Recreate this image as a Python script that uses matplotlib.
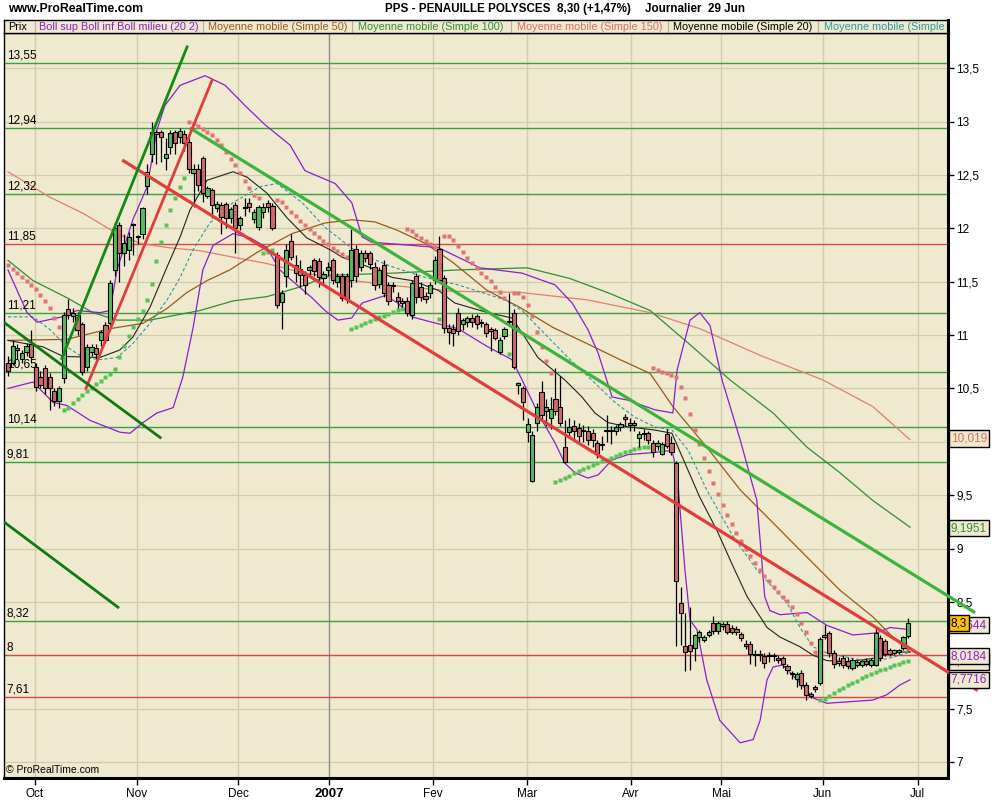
"""
plot.py
Daily candlestick chart PPS - PENAUILLE POLYSCES with moving averages,
Bollinger bands, parabolic SAR and trend lines. Writes out.png.
"""

import matplotlib
matplotlib.use("Agg")
import matplotlib.pyplot as plt
import matplotlib.transforms as mtransforms

plt.rcParams["font.family"] = ["Liberation Sans", "DejaVu Sans"]
NARROW = ["Liberation Sans Narrow", "Liberation Sans", "DejaVu Sans"]

# ---- daily prices (one entry per trading day, 21 Sep 2006 -> 29 Jun 2007)
opens = [
    10.74, 10.74, 10.86, 10.78, 10.84, 10.92, 10.70, 10.61, 10.69, 10.61,
    10.48, 10.38, 10.60, 11.24, 11.18, 11.19, 11.10, 10.70, 10.84, 10.88,
    10.95, 11.09, 11.11, 11.61, 12.03, 11.77, 11.80, 12.03, 11.92, 11.95,
    12.40, 12.70, 12.90, 12.90, 12.66, 12.76, 12.90, 12.86, 12.88, 12.81,
    12.52, 12.56, 12.66, 12.30, 12.36, 12.19, 12.22, 12.23, 12.10, 12.22,
    12.03, 12.19, 12.24, 12.09, 12.01, 12.15, 12.24, 12.21, 11.75, 11.31,
    11.55, 11.88, 11.66, 11.62, 11.56, 11.61, 11.70, 11.69, 11.53, 11.61,
    11.70, 11.50, 11.55, 11.55, 11.52, 11.81, 11.64, 11.77, 11.77, 11.64,
    11.48, 11.66, 11.47, 11.46, 11.36, 11.32, 11.32, 11.19, 11.55, 11.45,
    11.37, 11.39, 11.52, 11.81, 11.53, 11.07, 11.06, 11.21, 11.10, 11.12,
    11.16, 11.18, 11.12, 11.10, 11.06, 11.05, 10.84, 10.99, 11.12, 11.21,
    10.53, 10.50, 10.09, 9.63, 10.18, 10.47, 10.29, 10.22, 10.40, 10.33,
    9.95, 10.09, 10.15, 10.13, 10.10, 10.10, 10.08, 9.99, 9.97, 10.10,
    10.10, 10.10, 10.14, 10.23, 10.18, 10.16, 10.04, 10.07, 10.08, 9.99,
    9.96, 9.89, 10.07, 9.99, 9.80, 8.49, 8.09, 8.10, 8.07, 8.17,
    8.14, 8.19, 8.30, 8.23, 8.27, 8.29, 8.26, 8.25, 8.20, 8.11,
    8.11, 8.01, 8.00, 7.99, 7.99, 7.99, 7.97, 7.97, 7.90, 7.82,
    7.78, 7.83, 7.72, 7.62, 7.70, 7.74, 8.19, 8.21, 8.02, 7.93,
    7.97, 7.95, 7.88, 7.91, 7.91, 7.95, 7.91, 7.91, 8.16, 8.13,
    8.05, 8.02, 8.03, 8.07, 8.18]
highs = [
    10.80, 10.95, 10.92, 10.86, 10.93, 11.05, 10.74, 10.66, 10.72, 10.64,
    10.50, 10.52, 11.22, 11.34, 11.25, 11.22, 11.12, 10.92, 10.92, 10.92,
    11.05, 11.12, 11.52, 12.06, 12.06, 11.95, 11.97, 12.05, 11.94, 12.20,
    12.60, 13.00, 12.92, 12.92, 12.85, 12.92, 12.92, 12.94, 12.92, 12.85,
    12.60, 12.60, 12.68, 12.40, 12.38, 12.26, 12.25, 12.25, 12.20, 12.25,
    12.12, 12.28, 12.28, 12.18, 12.22, 12.24, 12.27, 12.24, 11.78, 11.42,
    11.85, 11.95, 11.75, 11.70, 11.60, 11.66, 11.72, 11.72, 11.60, 11.68,
    11.72, 11.58, 11.58, 11.58, 11.99, 11.84, 11.80, 11.80, 11.79, 11.68,
    11.64, 11.70, 11.50, 11.50, 11.40, 11.35, 11.36, 11.52, 11.58, 11.50,
    11.40, 11.50, 11.74, 11.93, 11.56, 11.10, 11.10, 11.25, 11.16, 11.18,
    11.20, 11.20, 11.15, 11.12, 11.08, 11.07, 10.98, 11.08, 11.39, 11.24,
    10.56, 10.52, 10.22, 10.10, 10.36, 10.57, 10.40, 10.42, 10.69, 10.62,
    10.20, 10.22, 10.20, 10.18, 10.16, 10.15, 10.12, 10.02, 10.05, 10.25,
    10.15, 10.16, 10.19, 10.26, 10.22, 10.20, 10.10, 10.12, 10.10, 10.02,
    10.02, 10.00, 10.12, 10.05, 9.82, 8.64, 8.40, 8.45, 8.20, 8.24,
    8.19, 8.24, 8.37, 8.32, 8.31, 8.32, 8.28, 8.27, 8.22, 8.14,
    8.13, 8.05, 8.05, 8.02, 8.03, 8.02, 8.00, 7.99, 7.92, 7.85,
    7.84, 7.86, 7.75, 7.66, 7.72, 8.17, 8.28, 8.23, 8.05, 7.98,
    8.00, 7.98, 7.97, 7.96, 7.96, 7.97, 7.97, 8.26, 8.19, 8.15,
    8.07, 8.06, 8.06, 8.18, 8.35]
lows = [
    10.62, 10.72, 10.78, 10.74, 10.80, 10.76, 10.48, 10.50, 10.45, 10.30,
    10.34, 10.32, 10.55, 11.15, 11.12, 11.00, 10.63, 10.66, 10.80, 10.78,
    10.90, 10.93, 11.08, 11.55, 11.50, 11.65, 11.70, 11.75, 11.85, 11.90,
    12.32, 12.62, 12.60, 12.62, 12.55, 12.70, 12.70, 12.80, 12.72, 12.52,
    12.20, 12.35, 12.25, 12.28, 12.10, 12.15, 11.95, 12.00, 12.05, 11.77,
    11.98, 12.12, 12.15, 12.05, 11.98, 12.10, 12.15, 11.98, 11.25, 11.06,
    11.45, 11.70, 11.50, 11.45, 11.38, 11.55, 11.55, 11.45, 11.48, 11.55,
    11.48, 11.45, 11.32, 11.30, 11.45, 11.50, 11.60, 11.68, 11.62, 11.42,
    11.44, 11.36, 11.28, 11.40, 11.25, 11.26, 11.18, 11.15, 11.30, 11.32,
    11.30, 11.35, 11.48, 11.50, 11.02, 10.92, 10.90, 11.00, 11.05, 11.08,
    11.08, 11.06, 11.08, 10.98, 10.85, 10.95, 10.82, 10.96, 11.10, 10.68,
    10.45, 10.20, 10.00, 9.62, 10.10, 10.20, 10.15, 10.12, 10.25, 10.15,
    9.80, 10.05, 10.02, 10.00, 10.00, 9.97, 9.95, 9.85, 9.92, 10.00,
    9.98, 10.06, 10.10, 10.15, 10.10, 10.10, 9.95, 10.02, 9.98, 9.86,
    9.92, 9.88, 9.94, 9.88, 8.09, 8.10, 7.85, 7.86, 7.95, 8.12,
    8.12, 8.17, 8.20, 8.20, 8.24, 8.20, 8.20, 8.19, 8.13, 8.06,
    7.92, 7.90, 7.95, 7.88, 7.94, 7.95, 7.93, 7.88, 7.82, 7.78,
    7.70, 7.68, 7.58, 7.60, 7.66, 7.72, 8.15, 7.98, 7.88, 7.90,
    7.88, 7.87, 7.86, 7.89, 7.89, 7.90, 7.89, 7.90, 7.95, 7.99,
    7.99, 8.00, 8.01, 8.05, 8.16]
closes = [
    10.66, 10.90, 10.88, 10.83, 10.90, 10.79, 10.51, 10.53, 10.50, 10.50,
    10.38, 10.50, 11.19, 11.19, 11.21, 11.05, 10.65, 10.89, 10.89, 10.82,
    11.03, 10.95, 11.49, 12.00, 11.77, 11.86, 11.92, 12.04, 11.92, 12.19,
    12.53, 12.90, 12.88, 12.86, 12.70, 12.89, 12.80, 12.91, 12.80, 12.56,
    12.56, 12.41, 12.33, 12.38, 12.22, 12.23, 12.11, 12.10, 12.18, 12.00,
    12.10, 12.19, 12.20, 12.15, 12.20, 12.20, 12.20, 12.00, 11.28, 11.39,
    11.80, 11.73, 11.58, 11.56, 11.47, 11.64, 11.60, 11.54, 11.57, 11.64,
    11.52, 11.55, 11.35, 11.34, 11.80, 11.55, 11.77, 11.72, 11.67, 11.47,
    11.61, 11.39, 11.32, 11.46, 11.32, 11.30, 11.21, 11.49, 11.36, 11.36,
    11.34, 11.47, 11.70, 11.52, 11.07, 11.03, 11.02, 11.04, 11.14, 11.16,
    11.12, 11.10, 11.11, 11.02, 11.04, 10.97, 10.95, 11.06, 11.13, 10.70,
    10.55, 10.37, 10.17, 10.06, 10.33, 10.25, 10.33, 10.31, 10.29, 10.18,
    9.81, 10.14, 10.10, 10.05, 10.10, 10.02, 10.02, 9.89, 9.97, 10.10,
    10.11, 10.14, 10.17, 10.21, 10.16, 10.16, 10.07, 10.07, 10.02, 9.90,
    9.99, 9.98, 9.96, 9.90, 8.70, 8.40, 8.03, 8.04, 8.19, 8.22,
    8.17, 8.22, 8.23, 8.30, 8.29, 8.22, 8.22, 8.22, 8.16, 8.09,
    8.01, 8.00, 8.00, 7.93, 7.99, 7.99, 7.96, 7.92, 7.86, 7.82,
    7.82, 7.72, 7.63, 7.64, 7.68, 8.15, 8.17, 8.02, 7.92, 7.95,
    7.91, 7.90, 7.96, 7.94, 7.95, 7.92, 7.96, 8.21, 7.97, 8.01,
    8.01, 8.05, 8.05, 8.17, 8.30]

# ---- indicator lines (day index, price)
boll_up_x = [0, 4.1, 6.3, 11.6, 14.9, 19.8, 22, 23.5, 26.9, 30, 32.1, 33.8, 37.1, 42.5,
             46.8, 51.1, 55.4, 60.8, 64, 70.5, 74.1, 76.3, 78.4, 87.1, 92.7, 97, 101.7,
             110.8, 117.9, 121.6, 125, 127.2, 130.2, 133.6, 139.4, 143.3, 144.2, 147,
             149.1, 151.3, 153.9, 157.8, 161.4, 163.1, 164.2, 166.4, 172.2, 176.5, 182.1,
             187.3, 190.1, 194.4]
boll_up_y = [11.61, 11.21, 11.12, 11.17, 11.23, 11.21, 11.23, 11.61, 12.08, 12.39, 12.92,
             13.15, 13.34, 13.43, 13.34, 13.15, 12.97, 12.78, 12.54, 12.42, 12.24, 11.92,
             11.87, 11.84, 11.82, 11.73, 11.63, 11.58, 11.47, 11.30, 11.05, 10.83, 10.42,
             10.39, 10.30, 10.27, 10.67, 11.14, 11.21, 11.09, 10.58, 10.02, 9.45, 8.55,
             8.42, 8.38, 8.40, 8.28, 8.19, 8.21, 8.26, 8.24]
boll_dn_x = [0, 5.4, 9.7, 12.7, 17.7, 24.1, 26.3, 29.1, 32.1, 35.6, 37.7, 39.9, 42, 44.2,
             48.5, 52.2, 55.8, 58.6, 61.2, 65.5, 68.3, 71.1, 74.1, 76.3, 81.3, 84, 87.1,
             91.4, 97, 103.4, 108.6, 110.8, 114.2, 117.9, 120, 122.2, 125, 127.2, 130.2,
             133.6, 139.4, 143.1, 144.2, 145.9, 147, 148.5, 150.6, 153.4, 157.8, 160.6,
             162.1, 163.6, 164.9, 167, 169.2, 172.2, 173.5, 176.5, 186.4, 189.4, 192.2,
             194.4]
boll_dn_y = [10.50, 10.56, 10.37, 10.34, 10.20, 10.09, 10.08, 10.18, 10.27, 10.32, 10.61,
             11.07, 11.61, 11.84, 11.95, 11.91, 11.82, 11.61, 11.51, 11.35, 11.23, 11.14,
             11.16, 11.30, 11.37, 11.30, 11.17, 11.12, 11.06, 10.89, 10.77, 10.58, 10.27,
             9.99, 9.80, 9.71, 9.66, 9.69, 9.83, 9.88, 9.90, 9.92, 9.71, 8.80, 8.33, 8.24,
             7.77, 7.39, 7.18, 7.21, 7.39, 7.77, 7.89, 7.91, 7.81, 7.67, 7.60, 7.55, 7.58,
             7.63, 7.72, 7.77]
sma20_x = [0, 7.5, 11.9, 19.8, 24.1, 26.9, 30.6, 34.3, 37.1, 39.2, 42.9, 48.5, 51.5, 55.8,
           60.1, 64.4, 69.4, 72, 77.6, 82.8, 87.1, 92.7, 96.3, 103.4, 108.6, 110.8, 114.2,
           120, 123.7, 126.5, 129.3, 133.6, 139.4, 143.1, 146.6, 149.1, 152.8, 156.3, 159.3,
           163.6, 166.4, 170.7, 173.5, 176.5, 180.8, 186.4, 190.7, 194.4]
sma20_y = [10.95, 10.89, 10.80, 10.79, 10.86, 10.98, 11.26, 11.64, 11.92, 12.17, 12.45,
           12.53, 12.48, 12.33, 12.10, 11.91, 11.80, 11.73, 11.64, 11.54, 11.51, 11.42,
           11.30, 11.21, 11.16, 11.02, 10.79, 10.58, 10.42, 10.27, 10.18, 10.14, 10.11,
           10.08, 9.73, 9.48, 9.17, 8.83, 8.55, 8.26, 8.17, 8.08, 8.00, 7.95, 7.94, 7.97,
           8.03, 8.03]
sma_teal_x = [0, 5.4, 9.1, 12.7, 16.2, 19.8, 23.5, 26.9, 30.6, 34.3, 37.1, 39.9, 43.5,
              48.5, 54.3, 58, 63.4, 68.3, 75.4, 82.8, 89.9, 97, 107.1, 110.8, 116.4, 120.7,
              126.5, 130.8, 135.1, 139.4, 143.1, 146.6, 150.6, 156.3, 161.4, 167.9, 170.7,
              173.5, 176.5, 182.1, 186.4, 190.7, 194.4]
sma_teal_y = [11.17, 11.17, 11.05, 10.89, 10.79, 10.77, 10.79, 10.92, 11.11, 11.33, 11.54,
              11.80, 12.05, 12.24, 12.39, 12.42, 12.24, 12.01, 11.77, 11.64, 11.54, 11.47,
              11.33, 11.23, 10.98, 10.79, 10.55, 10.37, 10.23, 10.14, 10.11, 9.92, 9.55,
              9.11, 8.80, 8.49, 8.26, 8.08, 8.02, 7.97, 7.94, 7.98, 8.03]
sma50_x = [0, 12.7, 22, 29.1, 34.3, 38.6, 42.9, 47.8, 53.9, 61.2, 68.3, 74.1, 79.1, 84,
           89.9, 95.9, 103.2, 110.3, 117.5, 124.8, 131.9, 138.4, 143.3, 150.6, 157.8, 164.9,
           172.2, 179.3, 186.4, 190.7, 194.4]
sma50_y = [10.95, 10.96, 11.06, 11.11, 11.25, 11.40, 11.51, 11.61, 11.78, 11.95, 12.05,
           12.08, 12.06, 11.98, 11.86, 11.68, 11.42, 11.26, 11.07, 10.92, 10.77, 10.64,
           10.33, 9.95, 9.55, 9.24, 8.92, 8.61, 8.36, 8.17, 8.03]
sma100_x = [0, 5.4, 12.7, 18.3, 23.5, 30.6, 41.4, 48.5, 55.8, 62.9, 69.4, 82.8, 97, 111.9,
            121.1, 129.7, 138.4, 147, 155.6, 164.9, 172.2, 179.3, 186.4, 194.4]
sma100_y = [11.70, 11.51, 11.35, 11.21, 11.14, 11.14, 11.23, 11.32, 11.36, 11.45, 11.56,
            11.58, 11.61, 11.63, 11.53, 11.39, 11.23, 10.91, 10.58, 10.27, 9.95, 9.71,
            9.45, 9.20]
sma150_x = [0, 9.1, 16.2, 23.5, 28.4, 34.3, 41.4, 48.5, 55.8, 62.9, 69.4, 81.7, 95.9,
            110.3, 124.8, 138.4, 149.1, 162.1, 175.6, 186.4, 194.4]
sma150_y = [12.53, 12.29, 12.14, 11.95, 11.86, 11.82, 11.79, 11.73, 11.67, 11.59, 11.54,
            11.47, 11.41, 11.40, 11.33, 11.21, 11.06, 10.81, 10.58, 10.33, 10.02]

# ---- hand-drawn trend lines (day index, price)
trend_green_x = [39.2, 208.4]
trend_green_y = [12.94, 8.40]
trend_red_x = [24.6, 209.0]
trend_red_y = [12.64, 7.67]
trend_red_up_x = [16.8, 44.0]
trend_red_up_y = [10.50, 13.39]
trend_dkgreen_up_x = [11.6, 38.6]
trend_dkgreen_up_y = [10.78, 13.70]
trend_dkgreen_a_x = [-0.6, 32.8]
trend_dkgreen_a_y = [11.11, 10.04]
trend_dkgreen_b_x = [-0.6, 23.7]
trend_dkgreen_b_y = [9.24, 8.45]

# ---- horizontal support / resistance levels
levels = [13.55, 12.94, 12.32, 11.85, 11.21, 10.65, 10.14, 9.81, 8.32, 8.0, 7.61]
level_labels = ["13,55", "12,94", "12,32", "11,85", "11,21", "10,65", "10,14", "9,81",
                "8,32", "8", "7,61"]
level_colors = ["g", "g", "g", "r", "g", "g", "g", "g", "g", "r", "r"]

# ---- last values shown on the price axis (label, price, colour)
value_labels = ["10,019", "9,1951", "8,3644", "7,9417", "8,0184", "7,7716"]
value_prices = [10.03, 9.19, 8.28, 7.94, 7.99, 7.77]
value_colors = ["#d87060", "#2f8f2f", "#8a1fd0", "black", "#8a1fd0", "#8a1fd0"]

# ---- axes labels ("10" and "8" sit under the value boxes)
month_pos = [5.8, 27.8, 49.6, 69.2, 91.6, 111.9, 134.3, 153.7, 175.6, 196.1]
month_labels = ["Oct", "Nov", "Dec", "2007", "Fev", "Mar", "Avr", "Mai", "Jun", "Jul"]
price_ticks = [7, 7.5, 8, 8.5, 9, 9.5, 10, 10.5, 11, 11.5, 12, 12.5, 13, 13.5]
price_tick_labels = ["7", "7,5", "", "8,5", "9", "9,5", "", "10,5", "11", "11,5",
                     "12", "12,5", "13", "13,5"]

BG = "#efe9cf"
GRID = "#d2cbad"
UP = "#55bd55"
DOWN = "#cd6a6a"
PURPLE = "#8a1fd0"
LINE_GREEN = "#3f9f3f"
LINE_RED = "#d84848"


def parabolic_sar(high, low):
    # Wilder parabolic SAR, the chart opens in a falling phase
    up, s, ep, af = False, 11.66, low[0], 0.04
    vals, trend = [], []
    for i in range(len(high)):
        if i > 0:
            s = s + af * (ep - s)
            if up:
                s = min(s, low[i - 1], low[max(i - 2, 0)])
            else:
                s = max(s, high[i - 1], high[max(i - 2, 0)])
        if up and low[i] < s:
            up, s, ep, af = False, ep, low[i], 0.02
        elif not up and high[i] > s:
            up, s, ep, af = True, ep, high[i], 0.02
        elif up and high[i] > ep:
            ep, af = high[i], min(af + 0.02, 0.2)
        elif not up and low[i] < ep:
            ep, af = low[i], min(af + 0.02, 0.2)
        vals.append(s)
        trend.append(up)
    return vals, trend


def fx(px):
    return px / 1000.0


def fy(py):
    return 1 - py / 800.0


def main():
    fig = plt.figure(figsize=(10, 8), dpi=100, facecolor="white")
    ax = fig.add_axes([fx(4), fy(778), fx(944), 745 / 800.0], facecolor=BG)
    n = len(closes)
    days = list(range(n))

    ax.set_xlim(-0.86, 202.6)
    ax.set_ylim(6.85, 13.83)
    trans_left = mtransforms.blended_transform_factory(ax.transAxes, ax.transData)

    # grid
    for p in price_ticks:
        ax.axhline(p, color=GRID, lw=0.9, zorder=0)
    for m, lab in zip(month_pos, month_labels):
        ax.axvline(m, color="#8e8e8e" if lab == "2007" else GRID, lw=1.0, zorder=0)

    # support / resistance lines
    for lv, lab, c in zip(levels, level_labels, level_colors):
        col = LINE_GREEN if c == "g" else LINE_RED
        ax.axhline(lv, color=col, lw=1.0, zorder=1)
        ax.text(0.003, lv + 0.015, lab, transform=trans_left, fontsize=8.5,
                ha="left", va="bottom", color="black", zorder=6)

    # indicators
    ax.plot(sma150_x, sma150_y, color="#e0806e", lw=0.9, zorder=2)
    ax.plot(sma100_x, sma100_y, color="#2f8f2f", lw=0.9, zorder=2)
    ax.plot(sma50_x, sma50_y, color="#9a5a1a", lw=0.9, zorder=2)
    ax.plot(sma20_x, sma20_y, color="#222222", lw=0.8, zorder=2)
    ax.plot(sma_teal_x, sma_teal_y, color="#2a9a9a", lw=0.8, ls=(0, (3, 2)), zorder=2)
    ax.plot(boll_up_x, boll_up_y, color=PURPLE, lw=0.9, zorder=2)
    ax.plot(boll_dn_x, boll_dn_y, color=PURPLE, lw=0.9, zorder=2)

    # parabolic SAR
    sar, sar_up = parabolic_sar(highs, lows)
    ax.plot([d for d, u in zip(days, sar_up) if u], [s for s, u in zip(sar, sar_up) if u],
            ls="none", marker="s", ms=3.5, color="#55c455", mec="none", zorder=3)
    ax.plot([d for d, u in zip(days, sar_up) if not u],
            [s for s, u in zip(sar, sar_up) if not u],
            ls="none", marker="s", ms=3.5, color="#e07474", mec="none", zorder=3)

    # candles
    ax.vlines(days, lows, highs, color="black", lw=0.9, zorder=4)
    bottoms = [min(o, c) for o, c in zip(opens, closes)]
    heights = [max(abs(c - o), 0.012) for o, c in zip(opens, closes)]
    colors = [UP if c >= o else DOWN for o, c in zip(opens, closes)]
    ax.bar(days, heights, bottom=bottoms, width=0.9, color=colors, edgecolor="black",
           linewidth=0.8, zorder=5)

    # trend lines
    ax.plot(trend_green_x, trend_green_y, color="#3cb43c", lw=2.3, zorder=7,
            solid_capstyle="butt", clip_on=False)
    ax.plot(trend_red_x, trend_red_y, color="#e23c3c", lw=2.3, zorder=7,
            solid_capstyle="butt", clip_on=False)
    ax.plot(trend_red_up_x, trend_red_up_y, color="#e23c3c", lw=2.0, zorder=7)
    ax.plot(trend_dkgreen_up_x, trend_dkgreen_up_y, color="#138a13", lw=2.0, zorder=7)
    ax.plot(trend_dkgreen_a_x, trend_dkgreen_a_y, color="#107a10", lw=2.0, zorder=7)
    ax.plot(trend_dkgreen_b_x, trend_dkgreen_b_y, color="#107a10", lw=2.0, zorder=7)

    # axes styling
    ax.yaxis.tick_right()
    ax.set_yticks(price_ticks)
    ax.set_yticklabels(price_tick_labels, family=NARROW, fontsize=8.5)
    ax.set_xticks(month_pos)
    ax.set_xticklabels(month_labels, family=NARROW, fontsize=8.5)
    for t in ax.get_xticklabels():
        if t.get_text() == "2007":
            t.set_fontweight("bold")
            t.set_fontsize(9.5)
            t.set_family(["Liberation Sans", "DejaVu Sans"])
    ax.tick_params(axis="y", length=4, width=1, pad=2, colors="black")
    ax.tick_params(axis="x", length=5, width=1, pad=2, colors="black")
    for side in ("right", "bottom"):
        ax.spines[side].set_linewidth(2.2)
    for side in ("left", "top"):
        ax.spines[side].set_linewidth(1.0)

    ax.text(0.002, 0.004, "\u00a9 ProRealTime.com", transform=ax.transAxes, fontsize=7.5,
            family=NARROW, ha="left", va="bottom", zorder=8)

    # last-value boxes on the price axis
    for k, (lab, pr, col) in enumerate(zip(value_labels, value_prices, value_colors)):
        ax.text(1.003, pr, lab, transform=trans_left, fontsize=8.5, color=col,
                va="center", ha="left", zorder=9 + k,
                bbox=dict(boxstyle="square,pad=0.18", fc=BG, ec="black", lw=1.0))
    ax.text(1.003, 8.30, "8,3", transform=trans_left, fontsize=8.5, color="black",
            va="center", ha="left", zorder=20,
            bbox=dict(boxstyle="square,pad=0.18", fc="#ffc000", ec="black", lw=1.0))

    # legend header row
    hx = fig.add_axes([fx(4), fy(33), fx(944), 13 / 800.0], facecolor=BG)
    hx.set_xlim(4, 948)
    hx.set_ylim(0, 1)
    hx.set_xticks([])
    hx.set_yticks([])
    for sp in hx.spines.values():
        sp.set_linewidth(1.0)
    hx.spines["right"].set_linewidth(2.2)
    header = [(8, "Prix", "black"),
              (39, "Boll sup Boll inf Boll milieu (20 2)", PURPLE),
              (208, "Moyenne mobile (Simple 50)", "#9a5a1a"),
              (358, "Moyenne mobile (Simple 100)", "#2f8f2f"),
              (517, "Moyenne mobile (Simple 150)", "#d87060"),
              (673, "Moyenne mobile (Simple 20)", "black"),
              (824, "Moyenne mobile (Simple", "#2a9a9a")]
    for x0, txt, col in header:
        hx.text(x0, 0.45, txt, fontsize=7.8, color=col, ha="left", va="center")
    for xs in [35, 203, 352, 511, 668, 818]:
        hx.plot([xs, xs], [0, 1], color="#b9b29a", lw=0.8)

    # title row
    fig.text(fx(8), fy(9), "www.ProRealTime.com", fontsize=8.8, fontweight="bold",
             ha="left", va="center")
    fig.text(fx(385), fy(9), "PPS - PENAUILLE POLYSCES", fontsize=8.4,
             fontweight="bold", ha="left", va="center")
    fig.text(fx(557), fy(9), "8,30 (+1,47%)", fontsize=8.4, fontweight="bold",
             ha="left", va="center")
    fig.text(fx(645), fy(9), "Journalier  29 Jun", fontsize=8.4, fontweight="bold",
             ha="left", va="center")

    fig.savefig("out.png", dpi=100, facecolor="white")
    print("[plot] wrote out.png")


if __name__ == "__main__":
    main()
